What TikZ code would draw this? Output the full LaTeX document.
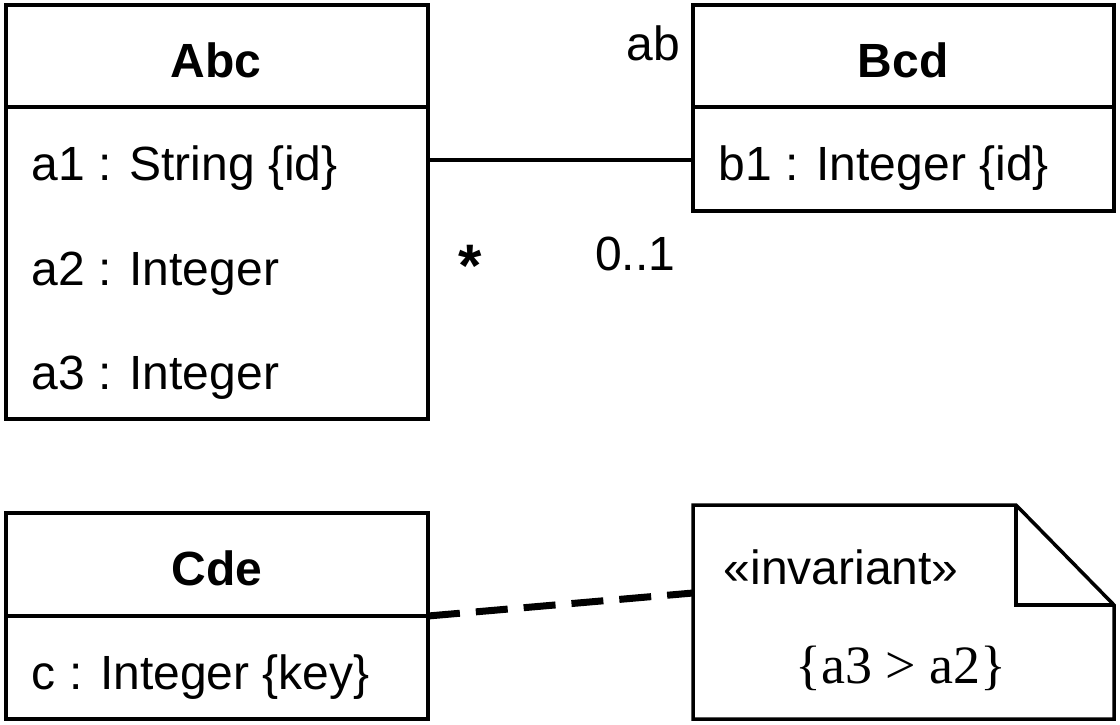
\documentclass[tikz,border=0pt]{standalone}
\usepackage{fontspec}
\setmainfont{Liberation Sans}
\newfontfamily\notefont{Liberation Serif}
\usetikzlibrary{calc}

\begin{document}
\begin{tikzpicture}[x=0.5pt, y=-0.5pt, line width=1.75pt,
	classbox/.style={draw, rectangle, inner sep=0pt, outer sep=0pt},
	label/.style={inner sep=0pt, font=\fontsize{24}{29}\selectfont},
	title/.style={label, font=\fontsize{24}{29}\selectfont\bfseries, anchor=base},
	attr/.style={label, anchor=base west}]
	\useasboundingbox (0,0) rectangle (1120,724);

	% classes and note
	\node[classbox, minimum width=211pt, minimum height=207pt] (abc) at (217,212) {};
	\node[classbox, minimum width=210.5pt, minimum height=103pt] (bcd) at (903.5,108) {};
	\node[classbox, minimum width=211pt, minimum height=103pt] (cde) at (217,616) {};
	\node[rectangle, inner sep=0pt, outer sep=0pt, minimum width=210.5pt, minimum height=107pt] (note) at (903.5,612) {};

	\draw ([yshift=-51pt]abc.north west) -- ([yshift=-51pt]abc.north east);
	\draw ([yshift=-51pt]bcd.north west) -- ([yshift=-51pt]bcd.north east);
	\draw ([yshift=-51.5pt]cde.north west) -- ([yshift=-51.5pt]cde.north east);
	\draw (note.north west) -- ([xshift=-49pt]note.north east) -- ([yshift=-50pt]note.north east)
		-- (note.south east) -- (note.south west) -- cycle;
	\draw ([xshift=-49pt]note.north east) -- ([xshift=-49pt,yshift=-50pt]note.north east)
		-- ([yshift=-50pt]note.north east);

	% texts
	\node[title] (abcname) at (216,77) {Abc};
	\node[attr] (aone) at (30,180) {a1 : String \{id\}};
	\node[attr] (atwo) at (30,285) {a2 : Integer};
	\node[attr] (athree) at (30,389) {a3 : Integer};
	\node[title] (bcdname) at (903,77) {Bcd};
	\node[attr] (bone) at (717,180) {b1 : Integer \{id\}};
	\node[title] (cdename) at (217,585) {Cde};
	\node[attr] (ckey) at (30,689) {c : Integer \{key\}};
	\node[attr] (stereo) at (722,584) {«invariant»};
	\node[inner sep=0pt, anchor=base, font=\fontsize{27}{32}\notefont] (inv) at (901,683) {\{a3 > a2\}};

	% association
	\draw ([yshift=-26pt]bcd.west) -- ([yshift=-26pt]bcd.west -| abc.east);
	\node[label, anchor=base east] (role) at (682,60) {ab};
	\node[label, anchor=base, font=\fontsize{30}{34}\selectfont\bfseries] (manyend) at (470,286) {*};
	\node[label, anchor=base east] (oneend) at (677,270) {0..1};

	% anchor line to note
	\draw[line width=3.5pt, dash pattern=on 16pt off 8pt] (cde.east) -- ([yshift=9.5pt]note.west);
\end{tikzpicture}
\end{document}
